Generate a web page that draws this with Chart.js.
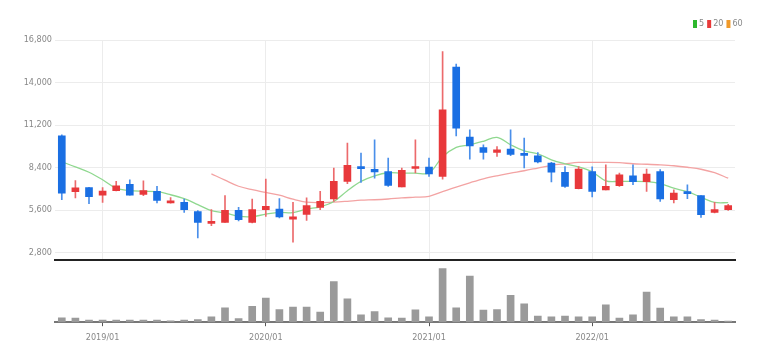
<!DOCTYPE html>
<html>
<head>
<meta charset="utf-8">
<script src="https://cdn.jsdelivr.net/npm/chart.js@4.4.1/dist/chart.umd.min.js"></script>
<style>
  html, body { margin: 0; padding: 0; background: #fff; }
  #wrap { position: relative; width: 767px; height: 362px; }
  #priceBox { position: absolute; left: 0; top: 0; width: 767px; height: 268px; }
  #volBox { position: absolute; left: 0; top: 262px; width: 767px; height: 100px; }
</style>
</head>
<body>
<div id="wrap">
  <div id="priceBox"><canvas id="priceChart"></canvas></div>
  <div id="volBox"><canvas id="volChart"></canvas></div>
</div>
<script>
// 월봉 (2018/10 ~ 2022/11)
const months = [
  '2018/10', '2018/11', '2018/12',
  '2019/01', '2019/02', '2019/03', '2019/04', '2019/05', '2019/06', '2019/07', '2019/08', '2019/09', '2019/10', '2019/11', '2019/12',
  '2020/01', '2020/02', '2020/03', '2020/04', '2020/05', '2020/06', '2020/07', '2020/08', '2020/09', '2020/10', '2020/11', '2020/12',
  '2021/01', '2021/02', '2021/03', '2021/04', '2021/05', '2021/06', '2021/07', '2021/08', '2021/09', '2021/10', '2021/11', '2021/12',
  '2022/01', '2022/02', '2022/03', '2022/04', '2022/05', '2022/06', '2022/07', '2022/08', '2022/09', '2022/10', '2022/11'
];
const yearLabels = ['2019/01', '2020/01', '2021/01', '2022/01'];

const opens  = [10490, 6810, 7090, 6590, 6880, 7290, 6630, 6830, 6070, 6110, 5510, 4730, 4790, 5580, 4790, 5630, 5670, 5010, 5320, 5780, 6330, 7490, 8470, 8280, 8140, 7120, 8340, 8430, 7820, 15010, 10400, 9720, 9390, 9620, 9310, 9180, 8700, 8080, 7010, 8140, 6920, 7200, 7860, 7470, 8140, 6280, 6790, 6550, 5450, 5630];
const highs  = [10560, 7550, 7100, 7090, 7490, 7600, 7530, 7160, 6430, 6330, 5560, 5630, 6550, 5780, 6330, 7640, 6350, 6110, 6400, 6830, 8370, 10010, 9350, 10230, 9020, 8370, 10230, 9020, 16030, 15220, 10880, 9900, 9790, 10880, 10340, 9390, 8740, 8470, 8470, 8450, 8580, 8040, 8580, 8300, 8260, 6940, 7270, 6550, 6110, 5980];
const lows   = [6280, 6400, 6020, 6110, 6860, 6580, 6550, 6070, 6060, 5450, 3770, 4570, 4790, 4880, 4750, 5190, 5080, 3480, 4920, 5630, 6170, 7340, 7420, 7710, 7160, 7120, 8040, 7820, 7640, 10490, 8960, 8960, 9130, 9180, 8370, 8700, 7450, 7090, 7000, 6460, 6920, 7160, 7270, 6830, 6170, 6070, 6350, 5120, 5410, 5580];
const closes = [6720, 7070, 6480, 6860, 7200, 6590, 6890, 6240, 6200, 5630, 4790, 4860, 5580, 4970, 5630, 5840, 5150, 5150, 5890, 6170, 7490, 8540, 8320, 8120, 7220, 8210, 8470, 7990, 12200, 11000, 9830, 9390, 9570, 9260, 9200, 8780, 8100, 7160, 8300, 6830, 7160, 7930, 7470, 7970, 6330, 6720, 6680, 5300, 5630, 5890];

const ma5  = [8780, 8450, 8090, 7600, 7040, 6880, 6840, 6810, 6610, 6350, 5960, 5560, 5410, 5200, 5170, 5330, 5450, 5430, 5660, 5820, 6170, 6880, 7490, 7860, 8060, 8040, 8040, 8040, 9110, 9730, 9900, 10130, 10390, 9900, 9500, 9310, 8910, 8650, 8450, 8120, 7530, 7490, 7490, 7470, 7340, 7040, 6810, 6450, 6110, 6090];
const ma20 = [null, null, null, null, null, null, null, null, null, null, null,
  7990, 7570, 7170, 6940, 6760, 6580, 6320, 6120, 6090, 6120, 6180, 6250, 6280, 6330, 6400, 6450, 6510, 6820, 7120, 7400, 7660, 7860, 8030, 8190, 8370, 8550, 8650, 8740, 8740, 8740, 8720, 8650, 8620, 8580, 8520, 8420, 8290, 8060, 7700];

const volumes = [440000, 400000, 200000, 200000, 200000, 200000, 200000, 200000, 140000, 200000, 270000, 540000, 1440000, 370000, 1570000, 2400000, 1270000, 1500000, 1500000, 1000000, 4040000, 2340000, 740000, 1070000, 440000, 400000, 1240000, 540000, 5340000, 1440000, 4600000, 1200000, 1270000, 2670000, 1840000, 600000, 540000, 600000, 540000, 540000, 1740000, 400000, 740000, 3000000, 1400000, 540000, 540000, 270000, 200000, 100000];

const yTicks = [2800, 5600, 8400, 11200, 14000, 16800];
const maLabels = ['5', '20', '60'];
const maColors = ['#2eb82e', '#e83a3a', '#f09a2a'];

const FONT = "'Liberation Sans Narrow', 'DejaVu Sans Condensed', sans-serif";
const UP = '#e8383b';
const DOWN = '#1a6fe3';
const candleColor = opens.map((o, i) => closes[i] >= o ? UP : DOWN);
const wickColor = opens.map((o, i) => closes[i] >= o ? '#ec6a6c' : '#4a8fea');
const isYear = i => yearLabels.includes(months[i]);

// 상단 범례 (5 / 20 / 60)
const maLegend = {
    id: 'maLegend',
    afterDraw(chart) {
        const ctx = chart.ctx;
        ctx.save();
        ctx.font = '9px ' + FONT;
        ctx.textBaseline = 'middle';
        let x = chart.chartArea.right - 42;
        const y = 24;
        maLabels.forEach((lab, i) => {
            ctx.fillStyle = maColors[i];
            ctx.fillRect(x, y - 4, 4, 8);
            x += 6;
            ctx.fillStyle = '#888';
            ctx.fillText(lab, x, y);
            x += ctx.measureText(lab).width + 3;
        });
        ctx.restore();
    }
};

new Chart(document.getElementById('priceChart'), {
    type: 'bar',
    data: {
        labels: months,
        datasets: [
            {
                label: 'body',
                data: opens.map((o, i) => [o, closes[i]]),
                backgroundColor: candleColor,
                barThickness: 7,
                minBarLength: 2,
                grouped: false,
                order: 1
            },
            {
                label: 'wick',
                data: lows.map((l, i) => [l, highs[i]]),
                backgroundColor: wickColor,
                barThickness: 1,
                grouped: false,
                order: 2
            },
            {
                type: 'line',
                label: 'MA5',
                data: ma5,
                borderColor: '#8fd88f',
                borderWidth: 1.3,
                pointRadius: 0,
                tension: 0.35,
                order: 3
            },
            {
                type: 'line',
                label: 'MA20',
                data: ma20,
                borderColor: '#f3a3a3',
                borderWidth: 1.3,
                pointRadius: 0,
                tension: 0.35,
                order: 4
            }
        ]
    },
    options: {
        responsive: true,
        maintainAspectRatio: false,
        animation: false,
        layout: { padding: { top: 40, right: 32, bottom: 1, left: 0 } },
        plugins: {
            legend: { display: false },
            tooltip: { enabled: false }
        },
        scales: {
            x: {
                offset: true,
                ticks: { display: false },
                grid: {
                    offset: false,
                    drawTicks: false,
                    color: ctx => isYear(ctx.index) ? '#ececec' : 'rgba(0,0,0,0)'
                },
                border: { color: '#222', width: 2 }
            },
            y: {
                min: 2340,
                max: 16800,
                afterBuildTicks: scale => { scale.ticks = yTicks.map(v => ({ value: v })); },
                afterFit: scale => { scale.width = 55; },
                ticks: {
                    color: '#888',
                    padding: 3,
                    font: { family: FONT, size: 9 },
                    callback: v => v.toLocaleString('en-US')
                },
                grid: { color: '#ececec', drawTicks: false },
                border: { display: false }
            }
        }
    },
    plugins: [maLegend]
});

new Chart(document.getElementById('volChart'), {
    type: 'bar',
    data: {
        labels: months,
        datasets: [{
            label: 'volume',
            data: volumes,
            backgroundColor: '#9a9a9a',
            barThickness: 7
        }]
    },
    options: {
        responsive: true,
        maintainAspectRatio: false,
        animation: false,
        layout: { padding: { top: 3, right: 32, bottom: 13, left: 0 } },
        plugins: {
            legend: { display: false },
            tooltip: { enabled: false }
        },
        scales: {
            x: {
                offset: true,
                ticks: {
                    autoSkip: false,
                    maxRotation: 0,
                    padding: 6,
                    color: '#888',
                    font: { family: FONT, size: 9 },
                    callback: (v, i) => isYear(i) ? months[i] : ''
                },
                grid: {
                    offset: false,
                    drawOnChartArea: false,
                    tickLength: 4,
                    color: ctx => isYear(ctx.index) ? '#555' : 'rgba(0,0,0,0)'
                },
                border: { color: '#777', width: 2 }
            },
            y: {
                min: 0,
                max: 5700000,
                afterFit: scale => { scale.width = 55; },
                ticks: { display: false },
                grid: { display: false },
                border: { display: false }
            }
        }
    }
});
</script>
</body>
</html>
